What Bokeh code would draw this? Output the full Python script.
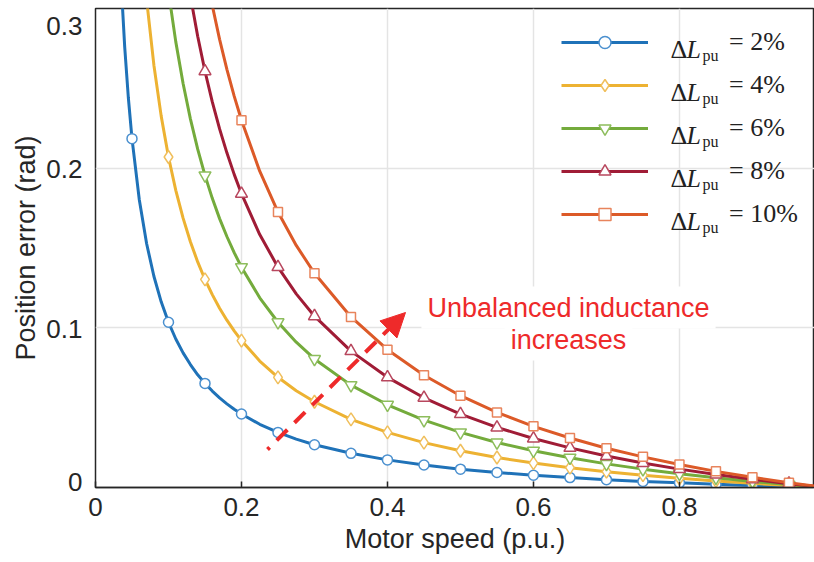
from bokeh.plotting import figure
from bokeh.models import (Range1d, FixedTicker, Legend, LegendItem, Label,
                          Arrow, NormalHead)
from bokeh.embed import file_html
from bokeh.resources import INLINE

# ---- data ----
speed_line = [0.03, 0.035, 0.04, 0.045, 0.05, 0.06, 0.07, 0.08, 0.09, 0.10,
              0.11, 0.12, 0.13, 0.14, 0.15, 0.16, 0.17, 0.18, 0.19, 0.20,
              0.225, 0.25, 0.275, 0.30, 0.35, 0.40, 0.45, 0.50, 0.55, 0.60,
              0.65, 0.70, 0.75, 0.80, 0.85, 0.90, 0.95, 1.00]

err_2 = [0.3718, 0.3171, 0.2760, 0.2441, 0.2185, 0.1802, 0.1528, 0.1323, 0.1163, 0.1035,
         0.0930, 0.0843, 0.0770, 0.0706, 0.0652, 0.0604, 0.0561, 0.0524, 0.0490, 0.0460,
         0.0396, 0.0345, 0.0303, 0.0268, 0.0214, 0.0173, 0.0141, 0.0115, 0.0094, 0.0077,
         0.0062, 0.0049, 0.0038, 0.0029, 0.0020, 0.0013, 0.0006, 0.0]
err_4 = [0.7437, 0.6341, 0.5520, 0.4881, 0.4370, 0.3603, 0.3056, 0.2645, 0.2326, 0.2070,
         0.1861, 0.1687, 0.1539, 0.1413, 0.1303, 0.1208, 0.1123, 0.1048, 0.0981, 0.0920,
         0.0792, 0.0690, 0.0606, 0.0537, 0.0427, 0.0345, 0.0281, 0.0230, 0.0188, 0.0153,
         0.0124, 0.0099, 0.0077, 0.0058, 0.0041, 0.0026, 0.0012, 0.0]
err_6 = [1.1155, 0.9512, 0.8280, 0.7322, 0.6555, 0.5405, 0.4584, 0.3968, 0.3488, 0.3105,
         0.2791, 0.2530, 0.2309, 0.2119, 0.1955, 0.1811, 0.1684, 0.1572, 0.1471, 0.1380,
         0.1188, 0.1035, 0.0910, 0.0805, 0.0641, 0.0518, 0.0422, 0.0345, 0.0282, 0.0230,
         0.0186, 0.0148, 0.0115, 0.0086, 0.0061, 0.0038, 0.0018, 0.0]
err_8 = [1.4873, 1.2683, 1.1040, 0.9762, 0.8740, 0.7207, 0.6112, 0.5290, 0.4651, 0.4140,
         0.3722, 0.3373, 0.3078, 0.2826, 0.2607, 0.2415, 0.2246, 0.2096, 0.1961, 0.1840,
         0.1584, 0.1380, 0.1213, 0.1073, 0.0854, 0.0690, 0.0562, 0.0460, 0.0376, 0.0307,
         0.0248, 0.0197, 0.0153, 0.0115, 0.0081, 0.0051, 0.0024, 0.0]
err_10 = [1.8592, 1.5853, 1.3800, 1.2203, 1.0925, 0.9008, 0.7639, 0.6613, 0.5814, 0.5175,
          0.4652, 0.4217, 0.3848, 0.3532, 0.3258, 0.3019, 0.2807, 0.2619, 0.2451, 0.2300,
          0.1981, 0.1725, 0.1516, 0.1342, 0.1068, 0.0863, 0.0703, 0.0575, 0.0470, 0.0383,
          0.0310, 0.0246, 0.0192, 0.0144, 0.0101, 0.0064, 0.0030, 0.0]

marker_speed = [0.05, 0.10, 0.15, 0.20, 0.25, 0.30, 0.35, 0.40, 0.45, 0.50,
                0.55, 0.60, 0.65, 0.70, 0.75, 0.80, 0.85, 0.90, 0.95]

series_pct = ["2%", "4%", "6%", "8%", "10%"]
series_err = [err_2, err_4, err_6, err_8, err_10]

x_ticks = [0, 0.2, 0.4, 0.6, 0.8]
y_ticks = [0, 0.1, 0.2]
y_tick_labels = ["0", "0.1", "0.2", "0.3"]

# ---- styles / layout ----
line_colors = ["#1f72b8", "#edb232", "#74ab3c", "#a01c36", "#dc5a28"]
edge_colors = ["#4b90cf", "#f0bf5c", "#8dbd5c", "#b8475e", "#e8845c"]
markers = ["circle", "diamond", "inverted_triangle", "triangle", "square"]
msizes = [10, 13, 12, 12, 9]

SANS = "Liberation Sans"
SERIF = "Liberation Serif"
DARK = "#262626"
TXT = "#222222"

FRAME_H = 479  # pixel height of the plot frame
# pixel offsets (from frame bottom) where the MATLAB-style y labels sit
y_label_pos = [6, 159, 319, 462]

p = figure(width=814, height=562, output_backend="svg", toolbar_location=None,
           x_range=Range1d(0, 0.985), y_range=Range1d(0, 0.3),
           min_border_left=95, min_border_right=0, min_border_top=8,
           min_border_bottom=75)
p.background_fill_color = "white"
p.border_fill_color = "white"
p.outline_line_color = DARK
p.outline_line_width = 1.5

idx = {round(v, 4): i for i, v in enumerate(speed_line)}
items = []
for k in range(5):
    vals = series_err[k]
    l = p.line(speed_line, vals, line_color=line_colors[k], line_width=3)
    my = [vals[idx[round(x, 4)]] for x in marker_speed]
    s = p.scatter(marker_speed, my, marker=markers[k], size=msizes[k],
                  fill_color="white", line_color=edge_colors[k], line_width=1.5)
    items.append(LegendItem(label="= " + series_pct[k], renderers=[l, s]))

legend = Legend(items=items, location=(466, 258), glyph_width=87, glyph_height=30,
                spacing=13, padding=0, margin=0, border_line_alpha=0,
                background_fill_alpha=0, label_standoff=81, label_height=30,
                label_text_font=SERIF, label_text_font_size="26px",
                label_text_color=TXT)
p.add_layout(legend)

# bottom axis
xa = p.xaxis[0]
xa.ticker = FixedTicker(ticks=x_ticks)
xa.axis_line_color = DARK
xa.axis_line_width = 1.5
xa.major_tick_line_color = DARK
xa.major_tick_line_width = 1.5
xa.major_tick_in = 6
xa.major_tick_out = 0
xa.minor_tick_line_color = None
xa.major_label_text_font = SANS
xa.major_label_text_font_size = "26px"
xa.major_label_text_color = DARK
xa.major_label_standoff = 10
xa.axis_label = "Motor speed (p.u.)"
xa.axis_label_text_font = SANS
xa.axis_label_text_font_size = "27px"
xa.axis_label_text_font_style = "normal"
xa.axis_label_text_color = DARK
xa.axis_label_standoff = 5

# left axis: labels placed as in the reference figure
p.extra_y_ranges = {"lab": Range1d(0, FRAME_H)}
ya = p.yaxis[0]
ya.y_range_name = "lab"
ya.ticker = FixedTicker(ticks=y_label_pos)
ya.major_label_overrides = dict(zip(y_label_pos, y_tick_labels))
ya.axis_line_color = None
ya.major_tick_line_color = None
ya.minor_tick_line_color = None
ya.major_tick_in = 0
ya.major_tick_out = 0
ya.major_label_text_font = SANS
ya.major_label_text_font_size = "26px"
ya.major_label_text_color = DARK
ya.major_label_standoff = 13
ya.axis_label = "Position error (rad)"
ya.axis_label_text_font = SANS
ya.axis_label_text_font_size = "27px"
ya.axis_label_text_font_style = "normal"
ya.axis_label_text_color = DARK
ya.axis_label_standoff = 2

p.xgrid.ticker = FixedTicker(ticks=x_ticks)
p.ygrid.ticker = FixedTicker(ticks=y_ticks)
p.ygrid.y_range_name = "default"
p.grid.grid_line_color = "#e4e4e4"
p.grid.grid_line_width = 1.5

# legend texts: ΔL with subscript pu
for k in range(5):
    base = 438 - 43.1 * k
    p.add_layout(Label(x=575, y=base, x_units="screen", y_units="screen", text="Δ",
                       text_font=SERIF, text_font_size="26px", text_color=TXT,
                       text_baseline="alphabetic"))
    p.add_layout(Label(x=591, y=base, x_units="screen", y_units="screen", text="L",
                       text_font=SERIF, text_font_size="26px", text_font_style="italic",
                       text_color=TXT, text_baseline="alphabetic"))
    p.add_layout(Label(x=607, y=base - 6, x_units="screen", y_units="screen", text="pu",
                       text_font=SERIF, text_font_size="16px", text_color=TXT,
                       text_baseline="alphabetic"))

# red annotation
RED = "#ee2a2a"
p.add_layout(Arrow(x_start=172, y_start=38, x_end=310, y_end=175,
                   start_units="screen", end_units="screen",
                   line_color=RED, line_width=4, line_dash="15 10", line_dash_offset=12,
                   end=NormalHead(size=24, fill_color=RED, line_color=RED, line_width=1)))
p.add_layout(Label(x=473, y=180, x_units="screen", y_units="screen",
                   text="Unbalanced inductance", text_align="center",
                   text_baseline="alphabetic", text_font=SANS, text_font_size="27px",
                   text_color=RED, background_fill_color="white", padding=6))
p.add_layout(Label(x=473, y=148, x_units="screen", y_units="screen",
                   text="increases", text_align="center",
                   text_baseline="alphabetic", text_font=SANS, text_font_size="27px",
                   text_color=RED, background_fill_color="white", padding=6))

open("out.html", "w").write(file_html(p, INLINE))
